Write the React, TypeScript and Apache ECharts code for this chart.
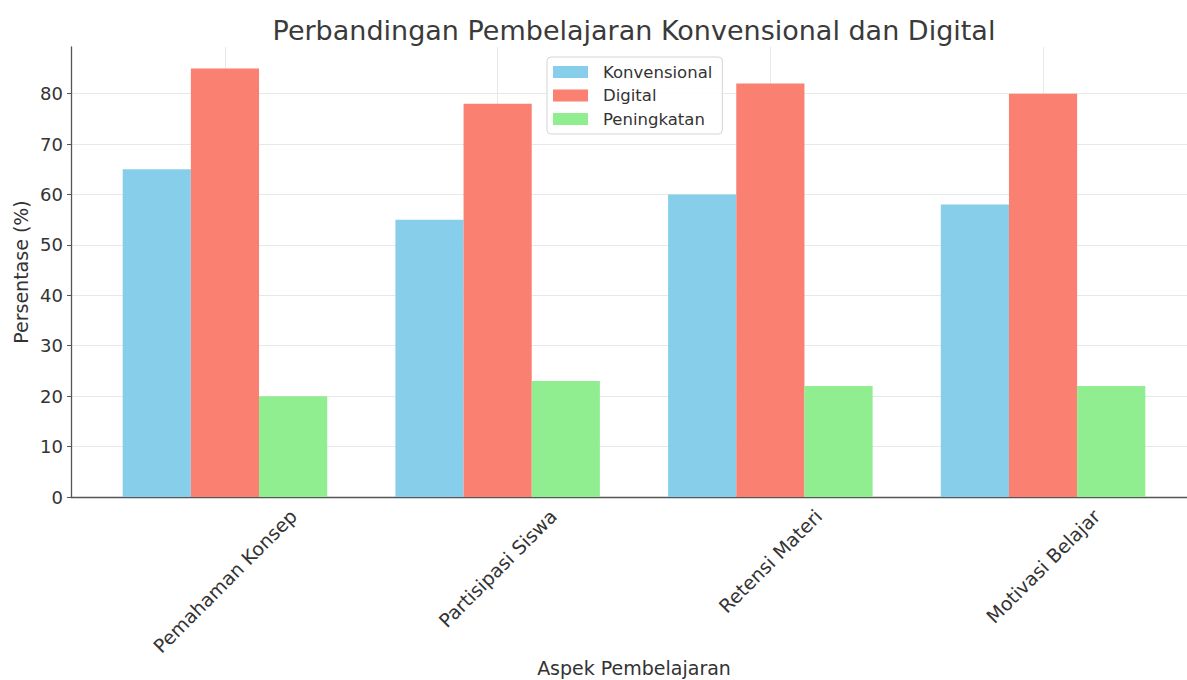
import React, { useEffect, useRef } from "react";
import * as echarts from "echarts";

const categories = ["Pemahaman Konsep", "Partisipasi Siswa", "Retensi Materi", "Motivasi Belajar"];
const seriesNames = ["Konvensional", "Digital", "Peningkatan"];
const konvensional = [65, 55, 60, 58];
const digital = [85, 78, 82, 80];
const peningkatan = [20, 23, 22, 22];
const yTicks = [0, 10, 20, 30, 40, 50, 60, 70, 80];
const yMax = 89.25;
const titleText = "Perbandingan Pembelajaran Konvensional dan Digital";
const xName = "Aspek Pembelajaran";
const yName = "Persentase (%)";
const colors = ["#87CEEB", "#FA8072", "#90EE90"];

const FONT = '"DejaVu Sans", Verdana, sans-serif';

function measure(text: string, size: number): number {
  const c = document.createElement("canvas");
  const ctx = c.getContext("2d");
  if (!ctx) return text.length * size * 0.6;
  ctx.font = `${size}px "DejaVu Sans"`;
  return ctx.measureText(text).width;
}

export default function App() {
  const ref = useRef<HTMLDivElement>(null);
  useEffect(() => {
    if (!ref.current) return;
    const chart = echarts.init(ref.current, null, { renderer: "svg" });
    const labelSize = 19;
    const rich: Record<string, any> = {};
    categories.forEach((c, i) => {
      const L = measure(c, labelSize);
      const p = 0.5 * (L + labelSize * 1.15);
      rich["c" + i] = {
        padding: [p, p, 0, 0],
        fontSize: labelSize,
        fontFamily: FONT,
        color: "#333",
      };
    });
    const axisColor = "#555";
    const gridColor = "#e8e8e8";
    const data = [konvensional, digital, peningkatan];
    const option: any = {
      animation: false,
      backgroundColor: "#fff",
      textStyle: { fontFamily: FONT },
      title: {
        text: titleText,
        left: 634,
        top: 17,
        textAlign: "center",
        padding: 0,
        textStyle: { fontSize: 27, fontWeight: "normal", color: "#3a3a3a", fontFamily: FONT },
      },
      legend: {
        orient: "vertical",
        left: 547,
        top: 57,
        padding: [6, 10, 6, 6],
        itemWidth: 35,
        itemHeight: 12,
        itemGap: 5.5,
        icon: "rect",
        backgroundColor: "rgba(255,255,255,0.85)",
        borderColor: "#d5d5d5",
        borderWidth: 1,
        borderRadius: 4,
        textStyle: { fontSize: 16.5, color: "#333", lineHeight: 18, fontFamily: FONT, padding: [0, 0, 0, 10] },
        data: seriesNames,
      },
      grid: [
        { left: 71, right: -9, top: 47, bottom: 183, outerBoundsMode: "none", containLabel: false },
        { left: 88.6, right: 7.6, top: 47, bottom: 183, outerBoundsMode: "none", containLabel: false },
      ],
      xAxis: [
        {
          type: "value",
          gridIndex: 0,
          min: 0,
          max: 1,
          axisLine: { show: true, lineStyle: { color: axisColor, width: 1.3 } },
          axisTick: { show: false },
          axisLabel: { show: false },
          splitLine: { show: false },
        },
        {
          type: "category",
          gridIndex: 1,
          data: categories,
          name: xName,
          nameLocation: "middle",
          nameGap: 161,
          nameMoveOverlap: false,
          nameTextStyle: { fontSize: 19, color: "#333", fontFamily: FONT },
          axisLine: { show: false },
          axisTick: { show: true, inside: true, alignWithLabel: true, length: 4, lineStyle: { color: "#333" } },
          axisLabel: {
            interval: 0,
            rotate: 45,
            align: "center",
            verticalAlign: "middle",
            margin: 8,
            fontSize: labelSize,
            color: "#333",
            formatter: (value: string, index: number) => `{c${index}|${value}}`,
            rich,
          },
          splitLine: { show: false },
        },
      ],
      yAxis: [
        {
          type: "value",
          gridIndex: 0,
          min: 0,
          max: yMax,
          name: yName,
          nameLocation: "middle",
          nameGap: 41,
          nameMoveOverlap: false,
          nameTextStyle: { fontSize: 19, color: "#333", fontFamily: FONT },
          axisLine: { show: true, lineStyle: { color: axisColor, width: 1.3 } },
          axisTick: { show: true, length: 4, customValues: yTicks, lineStyle: { color: axisColor } },
          axisLabel: { customValues: yTicks, fontSize: 18, color: "#333", margin: 8 },
          splitLine: { show: true, lineStyle: { color: gridColor, width: 1 } },
        },
        { type: "value", gridIndex: 1, min: 0, max: yMax, show: false },
      ],
      series: [
        {
          type: "line",
          xAxisIndex: 1,
          yAxisIndex: 1,
          data: [],
          silent: true,
          markLine: {
            silent: true,
            z: 1,
            symbol: ["none", "none"],
            label: { show: false },
            lineStyle: { color: gridColor, type: "solid", width: 1 },
            data: categories.map((c) => ({ xAxis: c })),
          },
        },
        ...seriesNames.map((name, i) => ({
          type: "bar",
          name,
          xAxisIndex: 1,
          yAxisIndex: 1,
          data: data[i],
          barWidth: "25%",
          barGap: "0%",
          z: 2,
          itemStyle: { color: colors[i] },
        })),
      ],
    };
    chart.setOption(option);
    return () => chart.dispose();
  }, []);
  return (
    <div
      ref={ref}
      style={{ position: "fixed", left: 0, top: 0, width: 1187, height: 680 }}
    />
  );
}
